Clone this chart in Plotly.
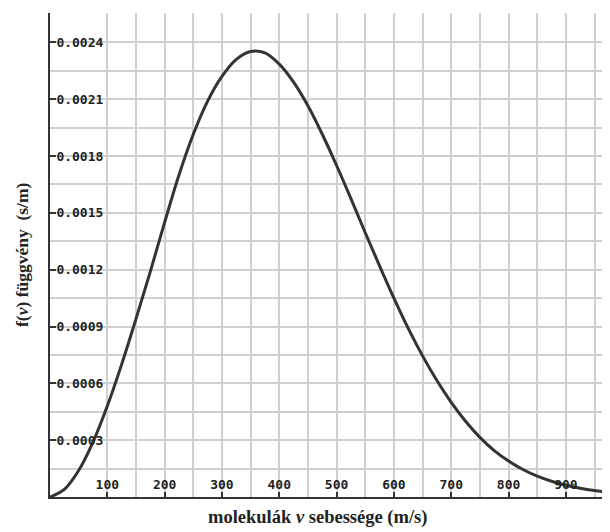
import plotly.graph_objects as go

# speeds (m/s) and f(v) values (s/m)
speed = [0, 25, 50, 75, 100, 125, 150, 175, 200, 225, 250, 275, 300, 325, 350, 375,
         400, 425, 450, 475, 500, 525, 550, 575, 600, 625, 650, 675, 700, 725, 750,
         775, 800, 825, 850, 875, 900, 925, 950, 975, 1000]
fv = [0.0, 0.00004, 0.00014, 0.00029, 0.00048, 0.00070, 0.00094, 0.00119, 0.00145,
      0.00170, 0.001915, 0.00209, 0.00222, 0.00231, 0.002352, 0.002345, 0.002285,
      0.00219, 0.002065, 0.001915, 0.00175, 0.001575, 0.001395, 0.00122, 0.00105,
      0.00089, 0.000745, 0.000615, 0.00050, 0.00040, 0.000315, 0.000245, 0.00019,
      0.000145, 0.00011, 0.000083, 0.000062, 0.000046, 0.000034, 0.000025, 0.000018]

x_ticks = [100, 200, 300, 400, 500, 600, 700, 800, 900]
y_ticks = [0.0003, 0.0006, 0.0009, 0.0012, 0.0015, 0.0018, 0.0021, 0.0024]
y_tick_text = ["0.0003", "0.0006", "0.0009", "0.0012", "0.0015", "0.0018", "0.0021", "0.0024"]

x_title = "molekulák <i>v</i> sebessége (m/s)"
y_title = "f(<i>v</i>) függvény\u00a0\u00a0(s/m)"

fig = go.Figure()
fig.add_trace(go.Scatter(
    x=speed, y=fv, mode="lines",
    line=dict(color="#333333", width=3, shape="spline", smoothing=1),
    hoverinfo="skip", showlegend=False,
))

grid_col = "#d0d0d0"
tick_font = dict(family="DejaVu Sans Mono", size=13, color="#222222", weight="bold")

fig.update_xaxes(
    range=[0, 977], tickvals=x_ticks, ticktext=[str(t) for t in x_ticks],
    ticks="inside", ticklen=5, tickwidth=1.5, tickcolor="#333333",
    ticklabelposition="inside", tickfont=tick_font,
    showline=True, linecolor="#333333", linewidth=2,
    showgrid=True, gridcolor=grid_col, gridwidth=1.5,
    minor=dict(tick0=0, dtick=50, showgrid=True, gridcolor=grid_col, gridwidth=1.5),
    zeroline=False, automargin=False,
)
fig.update_yaxes(
    range=[0, 0.002555], tickvals=y_ticks, ticktext=y_tick_text,
    ticks="inside", ticklen=6, tickwidth=1.5, tickcolor="#333333",
    ticklabelposition="inside", tickfont=tick_font,
    showline=True, linecolor="#333333", linewidth=2,
    showgrid=True, gridcolor=grid_col, gridwidth=1.5,
    minor=dict(tick0=0, dtick=0.00015, showgrid=True, gridcolor=grid_col, gridwidth=1.5),
    zeroline=False, automargin=False,
)

title_font = dict(family="Liberation Serif", color="#222222", weight="bold")
fig.add_annotation(text=x_title, xref="paper", yref="paper", x=0.477, y=-0.043,
                   xanchor="center", yanchor="middle", showarrow=False,
                   font=dict(size=18.5, **title_font))
fig.add_annotation(text=y_title, xref="paper", yref="paper", x=-0.05, y=0.5,
                   xanchor="center", yanchor="middle", showarrow=False, textangle=-90,
                   font=dict(size=17.5, **title_font))

# page body has an 8px margin, so the figure is drawn 8px smaller and shifted
fig.update_layout(
    width=602, height=524,
    margin=dict(l=42, r=0, t=5, b=35),
    paper_bgcolor="white", plot_bgcolor="white",
)

fig.write_html("out.html")
